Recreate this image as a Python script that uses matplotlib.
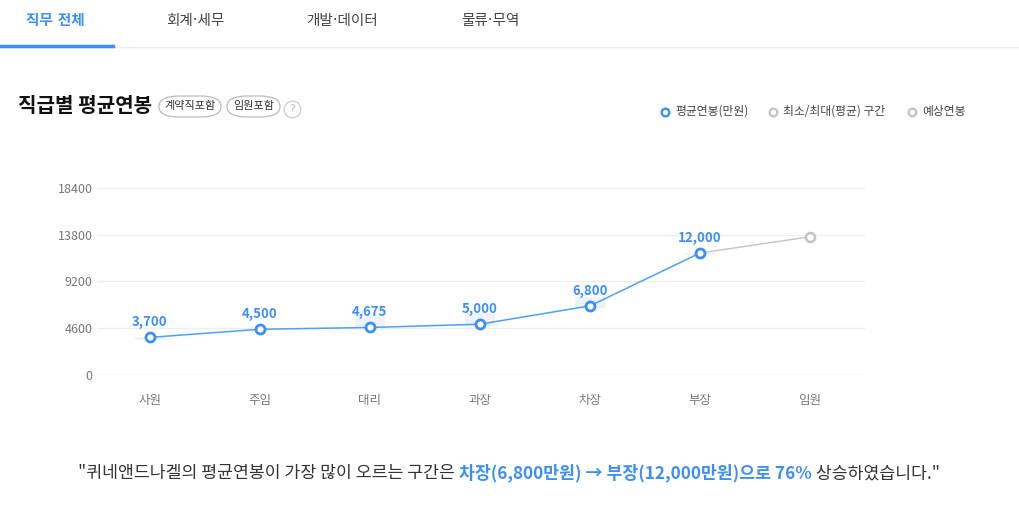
import matplotlib.pyplot as plt
from matplotlib.patches import FancyBboxPatch
import numpy as np

plt.rcParams['font.family'] = ['Noto Sans CJK KR', 'DejaVu Sans']

# Data
ranks = ['사원', '주임', '대리', '과장', '차장', '부장', '임원']
avg_salary = [3700, 4500, 4675, 5000, 6800, 12000]
expected = [12000, 13600]          # 부장 -> 임원 (예상)
range_min = [3400, 4450, 4400, 4800, 6600, 11800]
range_max = [3700, 4550, 5700, 6100, 7700, 12000]
yticks = [0, 4600, 9200, 13800, 18400]
tabs = ['직무 전체', '회계·세무', '개발·데이터', '물류·무역']
tab_x = [55, 195, 342, 490]

BLUE = '#3d8ef5'
LINE_BLUE = '#4da0f7'
GRAY = '#c4c4c4'
TEXT = '#333333'

W, H = 1019, 517
fig = plt.figure(figsize=(W / 100, H / 100), dpi=100)

def px(x, y):
    return x / W, 1 - y / H

# tabs
tab_font = ['DejaVu Sans', 'Noto Sans CJK KR']
for i, (t, x) in enumerate(zip(tabs, tab_x)):
    if i == 0:
        fig.text(*px(x, 20), t, color=BLUE, fontsize=10.5, fontweight='bold', ha='center', va='center',
                 family=tab_font)
    else:
        fig.text(*px(x, 20), t, color='#444444', fontsize=10.5, ha='center', va='center', family=tab_font)
fig.add_artist(plt.Line2D([0, 1], [1 - 47 / H] * 2, color='#eeeeee', lw=1))
fig.add_artist(plt.Line2D([0, 113 / W], [1 - 46 / H] * 2, color=BLUE, lw=2.5))

# title + pills
fig.text(*px(18, 106), '직급별 평균연봉', fontsize=14.5, fontweight='bold', color='#111111', va='center')
for label, x0, x1 in [('계약직포함', 159, 221), ('임원포함', 227, 280)]:
    fig.add_artist(FancyBboxPatch(px(x0, 117), (x1 - x0) / W, 21 / H,
                                  boxstyle='round,pad=0,rounding_size=0.02',
                                  transform=fig.transFigure, fc='white', ec='#bbbbbb', lw=0.9))
    fig.text(*px((x0 + x1) / 2, 106), label, fontsize=8, color='#333333', ha='center', va='center')
fig.add_artist(plt.Line2D([292 / W], [1 - 109 / H], marker='o', ms=12, mfc='white', mec='#cccccc', mew=0.9,
                          transform=fig.transFigure))
fig.text(*px(292, 109), '?', fontsize=8, color='#bbbbbb', ha='center', va='center', family='DejaVu Sans')

# legend
for cx, col, label in [(665, BLUE, '평균연봉(만원)'), (773, GRAY, '최소/최대(평균) 구간'), (912, GRAY, '예상연봉')]:
    fig.add_artist(plt.Line2D([cx / W], [1 - 112 / H], marker='o', ms=5.5, mfc='white', mec=col, mew=1.7,
                              transform=fig.transFigure))
    fig.text(*px(cx + 10, 111), label, fontsize=8.5, color='#444444', va='center')

# chart
ax = fig.add_axes([97 / W, 1 - 375 / H, (865 - 97) / W, (375 - 188) / H])
x = np.arange(len(ranks))
ax.bar(x[:len(range_min)], np.array(range_max) - np.array(range_min), bottom=range_min,
       width=0.27, color='#edf2fb', zorder=1)
ax.plot(x[5:7], expected, color=GRAY, lw=1, zorder=2)
ax.plot(x[6], expected[1], 'o', ms=6.5, mfc='white', mec=GRAY, mew=1.8, zorder=3)
ax.plot(x[:len(avg_salary)], avg_salary, color=LINE_BLUE, lw=1.1, zorder=2)
ax.plot(x[:len(avg_salary)], avg_salary, 'o', ms=6.5, mfc='white', mec=BLUE, mew=2, lw=0, zorder=4)
for xi, v in zip(x, avg_salary):
    ax.annotate(f'{v:,}', (xi, v), xytext=(0, 6), textcoords='offset points', ha='center', va='bottom',
                color=BLUE, fontsize=9.5, fontweight='bold', zorder=5)

ax.set_xlim(-0.48, 6.5)
ax.set_ylim(0, 18400)
ax.set_yticks(yticks)
ax.set_yticklabels([str(t) for t in yticks])
ax.set_xticks(x)
ax.set_xticklabels(ranks)
ax.tick_params(axis='both', length=0, colors='#777777', labelsize=9)
ax.tick_params(axis='y', pad=3)
ax.tick_params(axis='x', pad=14)
ax.grid(axis='y', color='#eeeeee', lw=0.9)
ax.set_axisbelow(True)
for s in ax.spines.values():
    s.set_visible(False)
ax.axhline(0, color='#dddddd', lw=1, zorder=0)

# summary sentence
pieces = [('"퀴네앤드나겔의 평균연봉이 가장 많이 오르는 구간은 ', TEXT, 'normal'),
          ('차장(6,800만원) → 부장(12,000만원)으로 76%', BLUE, 'bold'),
          (' 상승하였습니다."', TEXT, 'normal')]
renderer = fig.canvas.get_renderer()
texts = []
for s, c, w in pieces:
    texts.append(fig.text(0, 1 - 473 / H, s, color=c, fontweight=w, fontsize=12.4, va='center'))
widths = [t.get_window_extent(renderer).width for t in texts]
xpos = 509 - sum(widths) / 2
for t, w in zip(texts, widths):
    t.set_x(xpos / W)
    xpos += w

fig.savefig('out.png', dpi=100)
